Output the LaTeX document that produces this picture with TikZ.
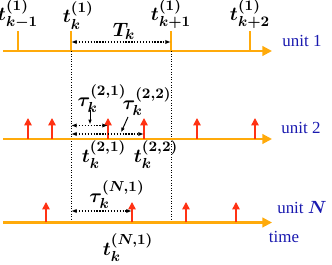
\documentclass[tikz,border=0pt]{standalone}
\usepackage{amsmath,amssymb,bm}
\usepackage{fontspec}
\setmainfont{Liberation Serif}
\usetikzlibrary{arrows.meta, positioning}

\definecolor{axisorange}{RGB}{255,170,10}
\definecolor{spikered}{RGB}{255,50,20}
\definecolor{unitblue}{RGB}{25,25,175}

\tikzset{
  axis/.style={draw=axisorange, line width=1.3pt, -{Triangle[length=6pt, width=6pt]}},
  tick/.style={draw=axisorange, line width=1pt},
  spike/.style={draw=spikered, line width=0.9pt, -{Triangle[length=4.5pt, width=4.5pt]}},
  span/.style={densely dotted, line width=0.8pt, {Latex[length=3.5pt]}-{Latex[length=3.5pt]}},
  guide/.style={densely dotted, line width=0.6pt},
  pointer/.style={line width=0.6pt, -{Latex[length=3pt]}},
  mathlbl/.style={inner sep=1pt, font=\fontsize{12.5pt}{14pt}\selectfont\boldmath},
  unitlbl/.style={inner sep=1pt, text=unitblue, font=\fontsize{10.5pt}{12pt}\selectfont}
}

\begin{document}
\begin{tikzpicture}[x=0.62pt, y=-0.62pt]
  \useasboundingbox (0,0) rectangle (332,265);

  % unit 1
  \coordinate (a1s) at (3,51);
  \coordinate (a1e) at (272,51);
  \foreach \x/\name in {18/m1, 71/k, 171/p1, 250/p2} {
    \coordinate (u1\name) at (\x,51);
    \coordinate (u1\name top) at (\x,31);
    \draw[tick] (u1\name) -- (u1\name top);
  }
  \draw[axis] (a1s) -- (a1e);
  \node[mathlbl, above] (lm1) at (u1m1top) {$t_{k-1}^{(1)}$};
  \node[mathlbl, above, xshift=4.5pt] (lk) at (u1ktop) {$t_{k}^{(1)}$};
  \node[mathlbl, above] (lp1) at (u1p1top) {$t_{k+1}^{(1)}$};
  \node[mathlbl, above] (lp2) at (u1p2top) {$t_{k+2}^{(1)}$};
  \coordinate (Ts) at (71,42);
  \coordinate (Te) at (171,42);
  \draw[span] (Ts) -- (Te);
  \node[mathlbl] (Tk) at (124,31) {$T_k$};
  \node[unitlbl] (unit1) at (302,41) {unit 1};

  % guides
  \coordinate (gkb) at (71,222);
  \coordinate (gp1b) at (171,222);
  \draw[guide] (u1k) -- (gkb);
  \draw[guide] (u1p1) -- (gp1b);

  % unit 2
  \coordinate (a2s) at (3,139);
  \coordinate (a2e) at (272,139);
  \draw[axis] (a2s) -- (a2e);
  \foreach \x [count=\i] in {28, 52, 108, 144, 197, 255} {
    \coordinate (s2\i) at (\x,139);
    \coordinate (s2\i top) at (\x,118);
    \draw[spike] (s2\i) -- (s2\i top);
  }
  \coordinate (tau21s) at (71,125.5);
  \coordinate (tau21e) at (108,125.5);
  \coordinate (tau22s) at (71,134);
  \coordinate (tau22e) at (144,134);
  \draw[span] (tau21s) -- (tau21e);
  \draw[span] (tau22s) -- (tau22e);
  \node[mathlbl] (tau21) at (102,99) {$\tau_k^{(2,1)}$};
  \node[mathlbl] (tau22) at (147,102) {$\tau_k^{(2,2)}$};
  \coordinate (p21s) at (90,110);
  \coordinate (p21) at (90,124.5);
  \coordinate (p22s) at (128,117);
  \coordinate (p22) at (121,132.5);
  \draw[pointer] (p21s) -- (p21);
  \draw[pointer] (p22s) -- (p22);
  \node[mathlbl] (t21) at (104,155) {$t_k^{(2,1)}$};
  \node[mathlbl] (t22) at (156,155) {$t_k^{(2,2)}$};
  \node[unitlbl] (unit2) at (301,128) {unit 2};

  % unit N
  \coordinate (aNs) at (3,222.5);
  \coordinate (aNe) at (272,222.5);
  \draw[axis] (aNs) -- (aNe);
  \foreach \x [count=\i] in {46, 132, 186, 236} {
    \coordinate (sN\i) at (\x,222.5);
    \coordinate (sN\i top) at (\x,202);
    \draw[spike] (sN\i) -- (sN\i top);
  }
  \coordinate (tauN1s) at (71,211);
  \coordinate (tauN1e) at (132,211);
  \draw[span] (tauN1s) -- (tauN1e);
  \node[mathlbl] (tauN1) at (117,195) {$\tau_k^{(N,1)}$};
  \node[mathlbl] (tN1) at (128,248) {$t_k^{(N,1)}$};
  \node[unitlbl] (unitN) at (302,208) {unit $\bm{N}$};
  \node[unitlbl] (time) at (284,237) {time};
\end{tikzpicture}
\end{document}
